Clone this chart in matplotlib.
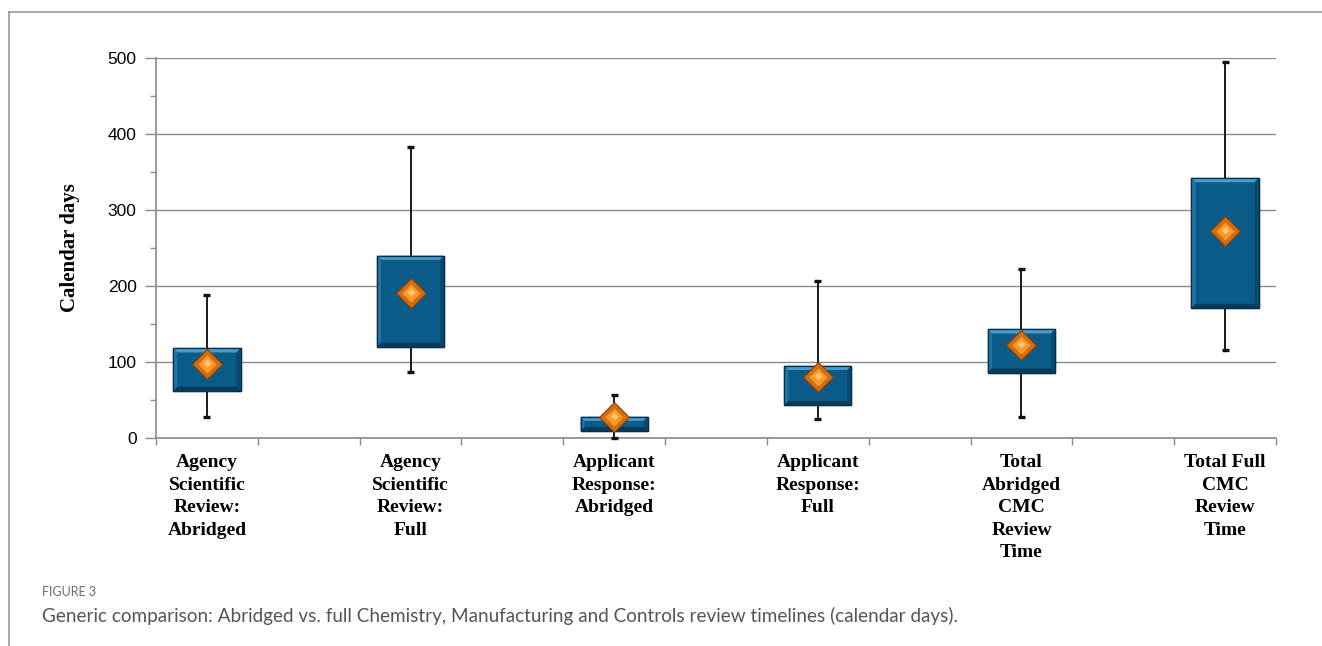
import matplotlib
matplotlib.use("Agg")
import matplotlib.pyplot as plt
from matplotlib.patches import Rectangle, Polygon
from matplotlib.lines import Line2D
import matplotlib.transforms as mtransforms

# Data (calendar days)
categories = [
    "Agency\nScientific\nReview:\nAbridged",
    "Agency\nScientific\nReview:\nFull",
    "Applicant\nResponse:\nAbridged",
    "Applicant\nResponse:\nFull",
    "Total\nAbridged\nCMC\nReview\nTime",
    "Total Full\nCMC\nReview\nTime",
]
whisker_low = [28, 87, 0, 25, 28, 116]
box_low = [62, 120, 9, 43, 86, 171]
box_high = [118, 240, 28, 95, 143, 342]
whisker_high = [188, 383, 57, 207, 222, 495]
means = [97, 191, 27, 80, 122, 272]
y_ticks = [0, 100, 200, 300, 400, 500]

BOX = "#0b5b88"
BOX_EDGE = "#06304c"
GRID = "#8a8a8a"

fig = plt.figure(figsize=(13.22, 6.46), dpi=100)

# outer frame of the figure panel
fig.add_artist(Line2D([9 / 1322, 1.0], [1 - 12 / 646, 1 - 12 / 646],
                      color="#9a9a9a", lw=1.2))
fig.add_artist(Line2D([9 / 1322, 9 / 1322], [0, 1 - 12 / 646],
                      color="#9a9a9a", lw=1.2))

ax = fig.add_axes([156 / 1322, 1 - 438 / 646, 1120 / 1322, 380 / 646])

# each category sits in the middle of a pair of slots, 11 slots in total
centers = [0.5 + 2 * i for i in range(len(categories))]
box_w = 0.66
bx = 0.04    # bevel width, x data units (~4 px)
by = 5.5     # bevel height, days (~4 px)


def bevel_box(cx, lo, hi):
    x0, x1 = cx - box_w / 2, cx + box_w / 2
    ax.add_patch(Rectangle((x0, lo), box_w, hi - lo, facecolor=BOX,
                           edgecolor=BOX_EDGE, lw=1.0, zorder=4))
    faces = [
        ([(x0, hi), (x1, hi), (x1 - bx, hi - by), (x0 + bx, hi - by)], "#4a9bcb"),
        ([(x0, lo), (x0, hi), (x0 + bx, hi - by), (x0 + bx, lo + by)], "#2274a6"),
        ([(x1, lo), (x1, hi), (x1 - bx, hi - by), (x1 - bx, lo + by)], "#07496f"),
        ([(x0, lo), (x1, lo), (x1 - bx, lo + by), (x0 + bx, lo + by)], "#053b5c"),
    ]
    for pts, col in faces:
        ax.add_patch(Polygon(pts, closed=True, facecolor=col,
                             edgecolor="none", zorder=5))
    ax.add_patch(Rectangle((x0, lo), box_w, hi - lo, facecolor="none",
                           edgecolor=BOX_EDGE, lw=0.9, zorder=5.5))


for cx, wl, bl, bh, wh, m in zip(centers, whisker_low, box_low, box_high,
                                 whisker_high, means):
    ax.plot([cx, cx], [wl, wh], color="#1a1a1a", lw=1.4, zorder=3,
            clip_on=False)
    for yy in (wl, wh):
        ax.plot([cx - 0.035, cx + 0.035], [yy, yy], color="#111111", lw=2.4,
                solid_capstyle="butt", zorder=3, clip_on=False)
    bevel_box(cx, bl, bh)
    # orange diamond with a darker rim and bright centre
    ax.plot(cx, m, marker="D", ms=15, color="#d36e10", mec="#8a3f05",
            mew=0.8, zorder=6, clip_on=False)
    ax.plot(cx, m, marker="D", ms=9.5, color="#f89a2a", mec="none", zorder=7,
            clip_on=False)
    ax.plot(cx, m + 1.5, marker="D", ms=4.5, color="#fcc270", mec="none",
            zorder=8, clip_on=False)

ax.set_xlim(0, 11)
ax.set_ylim(0, 500)
ax.set_yticks(y_ticks)
ax.set_yticks([50, 150, 250, 350, 450], minor=True)
ax.set_xticks(range(12))
ax.set_xticklabels([])
ax.yaxis.grid(True, color=GRID, lw=1.0)
ax.set_axisbelow(True)
for s in ("top", "right"):
    ax.spines[s].set_visible(False)
for s in ("left", "bottom"):
    ax.spines[s].set_color(GRID)
    ax.spines[s].set_linewidth(1.2)
ax.tick_params(axis="both", which="both", direction="out", color=GRID,
               width=1.0)
ax.tick_params(axis="y", which="major", length=8, labelsize=12.5, pad=6)
ax.tick_params(axis="y", which="minor", length=4)
ax.tick_params(axis="x", length=5)
for lab in ax.get_yticklabels():
    lab.set_family("Liberation Sans")

trans = mtransforms.blended_transform_factory(ax.transData, ax.transAxes)
for cx, name in zip(centers, categories):
    ax.text(cx, -0.042, name, transform=trans, ha="center", va="top",
            family="Liberation Serif", weight="bold", fontsize=14,
            linespacing=1.43)

ax.set_ylabel("Calendar days", family="Liberation Serif", weight="bold",
              fontsize=15, labelpad=20)

fig.text(42 / 1322, 1 - 592 / 646, "FIGURE 3", family="Lato", fontsize=9,
         color="#6b6b6b", va="center")
fig.text(42 / 1322, 1 - 616 / 646,
         "Generic comparison: Abridged vs. full Chemistry, Manufacturing and "
         "Controls review timelines (calendar days).",
         family="Lato", fontsize=13.6, color="#555555", va="center")

fig.savefig("out.png", dpi=100)
